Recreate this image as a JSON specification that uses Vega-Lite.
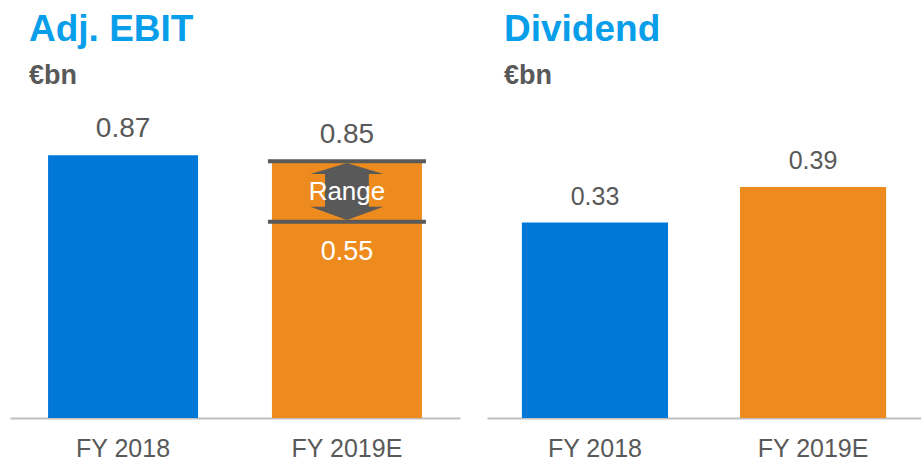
{
  "$schema": "https://vega.github.io/schema/vega-lite/v6.json",
  "padding": {"left": 10, "top": 11, "right": 0, "bottom": 0},
  "background": "white",
  "spacing": 27,
  "config": {
    "view": {"stroke": null},
    "font": "Liberation Sans",
    "title": {
      "anchor": "start", "frame": "group", "font": "Liberation Sans", "fontSize": 37, "fontWeight": "bold",
      "color": "#089EEA", "subtitleFont": "Liberation Sans", "subtitleFontSize": 27, "subtitleFontWeight": "bold",
      "subtitleColor": "#595959", "subtitlePadding": 14, "offset": 20
    },
    "axisX": {
      "title": null, "ticks": false, "grid": false, "labelAngle": 0, "labelFontSize": 25, "labelColor": "#595959",
      "labelFont": "Liberation Sans", "labelPadding": 18, "domainColor": "#BFBFBF", "domainWidth": 2
    }
  },
  "datasets": {
    "ebit": [
      {"year": "FY 2018", "value": 0.87, "label": "0.87"},
      {"year": "FY 2019E", "value": 0.85, "label": "0.85"}
    ],
    "ebitLines": [
      {"year": "FY 2019E", "line": 0.85},
      {"year": "FY 2019E", "line": 0.65}
    ],
    "ebitArrow": [
      {"year": "FY 2019E", "mid": 0.75, "text": "Range"}
    ],
    "ebitLow": [
      {"year": "FY 2019E", "low": 0.55, "text": "0.55"}
    ],
    "dividend": [
      {"year": "FY 2018", "value": 0.33, "label": "0.33"},
      {"year": "FY 2019E", "value": 0.39, "label": "0.39"}
    ]
  },
  "hconcat": [
    {
      "title": {"text": "Adj. EBIT", "subtitle": "€bn", "dx": 19},
      "width": 450,
      "height": 308,
      "encoding": {
        "x": {"field": "year", "type": "nominal", "sort": ["FY 2018", "FY 2019E"],
              "scale": {"paddingInner": 0.33, "paddingOuter": 0.17}}
      },
      "layer": [
        {
          "data": {"name": "ebit"},
          "mark": {"type": "bar"},
          "encoding": {
            "y": {"field": "value", "type": "quantitative", "scale": {"domain": [0, 1.02], "nice": false}, "axis": null},
            "color": {"field": "year", "type": "nominal", "scale": {"domain": ["FY 2018", "FY 2019E"], "range": ["#0078D8", "#EE8B1F"]}, "legend": null}
          }
        },
        {
          "data": {"name": "ebitArrow"},
          "mark": {"type": "point", "filled": true, "opacity": 1, "color": "#595959", "size": 5329,
                   "shape": "M0,-0.78 L1,-0.48 L0.6,-0.48 L0.6,0.42 L1,0.42 L0,0.78 L-1,0.42 L-0.6,0.42 L-0.6,-0.48 L-1,-0.48 Z"},
          "encoding": {
            "y": {"field": "mid", "type": "quantitative"}
          }
        },
        {
          "data": {"name": "ebitLines"},
          "mark": {"type": "tick", "size": 158, "thickness": 4, "color": "#595959", "opacity": 1},
          "encoding": {
            "y": {"field": "line", "type": "quantitative"}
          }
        },
        {
          "data": {"name": "ebitArrow"},
          "mark": {"type": "text", "color": "white", "fontSize": 26, "baseline": "middle", "align": "center"},
          "encoding": {
            "y": {"field": "mid", "type": "quantitative"},
            "text": {"field": "text"}
          }
        },
        {
          "data": {"name": "ebitLow"},
          "mark": {"type": "text", "color": "white", "fontSize": 27, "baseline": "middle", "align": "center"},
          "encoding": {
            "y": {"field": "low", "type": "quantitative"},
            "text": {"field": "text"}
          }
        },
        {
          "data": {"name": "ebit"},
          "mark": {"type": "text", "color": "#595959", "fontSize": 28, "baseline": "alphabetic", "align": "center", "dy": -18},
          "encoding": {
            "y": {"field": "value", "type": "quantitative"},
            "text": {"field": "label"}
          }
        }
      ],
      "resolve": {"scale": {"y": "shared"}}
    },
    {
      "title": {"text": "Dividend", "subtitle": "€bn", "dx": 17},
      "width": 434,
      "height": 308,
      "data": {"name": "dividend"},
      "encoding": {
        "x": {"field": "year", "type": "nominal", "sort": ["FY 2018", "FY 2019E"],
              "scale": {"paddingInner": 0.33, "paddingOuter": 0.16}},
        "y": {"field": "value", "type": "quantitative", "scale": {"domain": [0, 0.52], "nice": false}, "axis": null}
      },
      "layer": [
        {
          "mark": {"type": "bar"},
          "encoding": {
            "color": {"field": "year", "type": "nominal", "scale": {"domain": ["FY 2018", "FY 2019E"], "range": ["#0078D8", "#EE8B1F"]}, "legend": null}
          }
        },
        {
          "mark": {"type": "text", "color": "#595959", "fontSize": 25, "baseline": "alphabetic", "align": "center", "dy": -18},
          "encoding": {
            "text": {"field": "label"}
          }
        }
      ]
    }
  ],
  "resolve": {"scale": {"y": "independent", "x": "independent", "color": "independent"}}
}
